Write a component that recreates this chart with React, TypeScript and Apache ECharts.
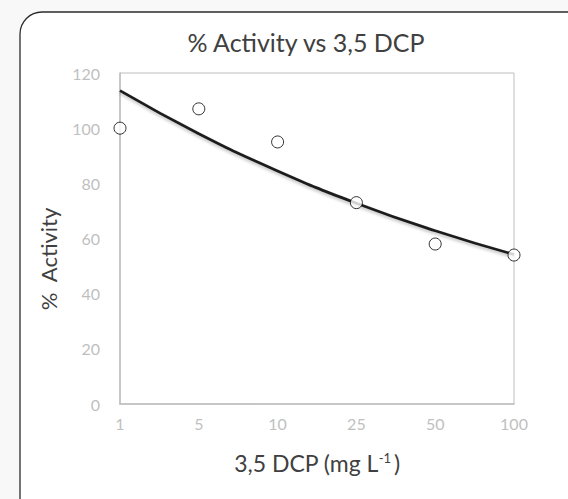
import React, { useEffect, useRef } from "react";
import * as echarts from "echarts";

const categories = ["1", "5", "10", "25", "50", "100"];
const activity = [100, 107, 95, 73, 58, 54];
const trendline = [113.6, 98.0, 84.5, 72.8, 62.8, 54.2];
const yTicks = { min: 0, max: 120, interval: 20 };

const FONT = "Lato, 'Open Sans', sans-serif";

export default function App() {
  const ref = useRef<HTMLDivElement>(null);
  useEffect(() => {
    if (!ref.current) return;
    const chart = echarts.init(ref.current, undefined, { renderer: "svg" });
    chart.setOption({
      animation: false,
      backgroundColor: "#f8f8f8",
      title: {
        text: "% Activity vs 3,5 DCP",
        left: 301,
        top: 24,
        textAlign: "center",
        textStyle: { fontFamily: FONT, fontSize: 25, fontWeight: "normal", color: "#404040" },
      },
      graphic: [
        {
          type: "rect",
          z: -10,
          shape: { x: 20, y: 12, width: 600, height: 520, r: 22 },
          style: { fill: "#ffffff", stroke: "#2b2b2b", lineWidth: 1.3 },
        },
        {
          type: "text",
          x: 48,
          y: 259,
          rotation: Math.PI / 2,
          style: {
            text: "%  Activity",
            fontFamily: FONT,
            fontSize: 22,
            fill: "#404040",
            align: "center",
            verticalAlign: "middle",
          },
        },
      ],
      grid: {
        left: 120,
        right: 54,
        top: 73,
        bottom: 95,
        show: true,
        borderColor: "#bfbfbf",
        borderWidth: 1,
        backgroundColor: "transparent",
      },
      xAxis: {
        type: "category",
        data: categories,
        boundaryGap: false,
        axisLine: { lineStyle: { color: "#bfbfbf", width: 1.5 } },
        axisTick: { show: false },
        splitLine: { show: false },
        axisLabel: { margin: 11, fontFamily: FONT, fontSize: 16, color: "#bfbfbf" },
        name: "3,5 DCP (mg L{sup|-1})",
        nameLocation: "middle",
        nameGap: 47,
        nameTextStyle: {
          fontFamily: FONT,
          fontSize: 23,
          color: "#404040",
          rich: {
            sup: { fontFamily: FONT, fontSize: 13, color: "#404040", verticalAlign: "top", padding: [0, 3, 10, 0] },
          },
        },
      },
      yAxis: {
        type: "value",
        min: yTicks.min,
        max: yTicks.max,
        interval: yTicks.interval,
        axisLine: { show: true, lineStyle: { color: "#bfbfbf", width: 1.5 } },
        axisTick: { show: false },
        splitLine: { show: false },
        axisLabel: { margin: 20, fontFamily: FONT, fontSize: 16, color: "#bfbfbf" },
      },
      series: [
        {
          type: "line",
          data: trendline,
          smooth: true,
          symbol: "none",
          z: 3,
          lineStyle: {
            color: "#1f1f1f",
            width: 2.8,
            shadowColor: "rgba(0,0,0,0.25)",
            shadowBlur: 3,
            shadowOffsetY: 2,
          },
        },
        {
          type: "scatter",
          data: activity,
          symbol: "circle",
          symbolSize: 12,
          z: 4,
          itemStyle: { color: "#ffffff", borderColor: "#000000", borderWidth: 1 },
        },
      ],
    });
    return () => chart.dispose();
  }, []);
  return <div ref={ref} style={{ width: 568, height: 499, position: "absolute", left: 0, top: 0 }} />;
}
